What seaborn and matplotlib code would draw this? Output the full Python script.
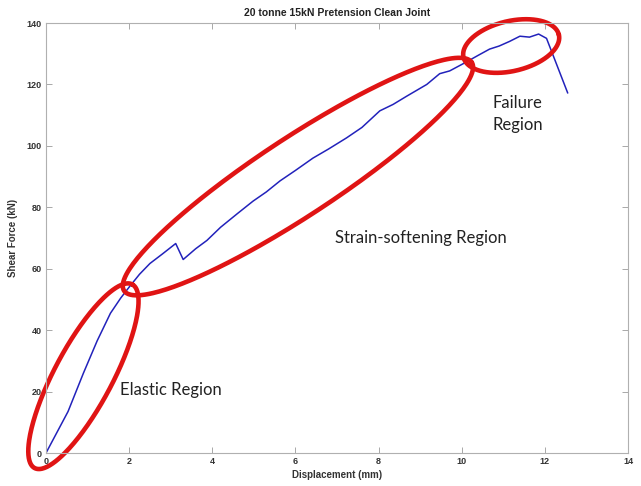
import numpy as np
import pandas as pd
import matplotlib
matplotlib.use("Agg")
import matplotlib.pyplot as plt
import seaborn as sns

# ---- data ----
displacement = [0, 0.53, 0.9, 1.23, 1.55, 1.8, 2.0, 2.25, 2.5, 2.8, 3.12, 3.3,
                3.6, 3.87, 4.2, 4.6, 4.98, 5.3, 5.63, 6.0, 6.42, 6.8, 7.23, 7.6,
                8.03, 8.35, 8.68, 9.16, 9.47, 9.71, 10.07, 10.4, 10.67, 10.9,
                11.15, 11.4, 11.63, 11.85, 12.04, 12.55]
shear_force = [0, 13.5, 26, 36.5, 45.5, 50.5, 54, 58.2, 61.7, 64.8, 68.2, 63,
               66.5, 69.2, 73.5, 77.9, 82, 85, 88.6, 92, 96, 99, 102.6, 106,
               111.4, 113.5, 116.2, 120, 123.5, 124.4, 127, 129.5, 131.5, 132.5,
               134, 135.7, 135.4, 136.4, 135, 117.2]
x_ticks = [0, 2, 4, 6, 8, 10, 12, 14]
y_ticks = [0, 20, 40, 60, 80, 100, 120, 140]

region_labels = ["Elastic Region", "Strain-softening Region", "Failure\nRegion"]
region_label_pos = [(1.78, 20.5), (6.95, 70), (10.75, 110.5)]   # data coords (left, center)

# ellipse highlights: centre (data), half-length / half-width in pixels, angle in degrees
ellipse_centres = [(0.90, 25.0), (6.06, 90.0), (11.19, 132.5)]
ellipse_half_len = [104, 208, 49]
ellipse_half_wid = [29, 39, 25]
ellipse_angle = [62.0, 33.3, 13.3]

df = pd.DataFrame({"Displacement": displacement, "Shear": shear_force})

sns.set_theme(style="white")
plt.rcParams["font.family"] = ["Liberation Sans", "DejaVu Sans"]

W, H = 641, 486
fig = plt.figure(figsize=(W / 100, H / 100), dpi=100)
left, right, top, bottom = 46, 628, 23, 453
ax = fig.add_axes([left / W, 1 - bottom / H, (right - left) / W, (bottom - top) / H])

sns.lineplot(data=df, x="Displacement", y="Shear", sort=False, estimator=None,
             color="#2222bb", linewidth=1.1, ax=ax)

ax.set_xlim(0, 14)
ax.set_ylim(0, 140)
ax.set_xticks(x_ticks)
ax.set_yticks(y_ticks)
ax.tick_params(direction="in", length=4, width=0.6, colors="#9a9a9a",
               labelcolor="#333333", labelsize=6.5, top=True, right=True,
               bottom=True, left=True, pad=3)
for lab in ax.get_xticklabels() + ax.get_yticklabels():
    lab.set_fontweight("bold")
for s in ax.spines.values():
    s.set_color("#b0b0b0")
    s.set_linewidth(0.8)

ax.set_xlabel("Displacement (mm)", fontsize=7, fontweight="bold", color="#333333", labelpad=3)
ax.set_ylabel("Shear Force (kN)", fontsize=7, fontweight="bold", color="#333333", labelpad=6)
ax.set_title("20 tonne 15kN Pretension Clean Joint", fontsize=7.5, fontweight="bold",
             color="#222222", pad=5)

# ellipses drawn in pixel space, mapped back to data coordinates
fig.canvas.draw()
inv = ax.transData.inverted()
t = np.linspace(0, 2 * np.pi, 300)
for (cx, cy), a, b, ang in zip(ellipse_centres, ellipse_half_len, ellipse_half_wid, ellipse_angle):
    px, py = ax.transData.transform((cx, cy))
    th = np.deg2rad(ang)
    ex = px + a * np.cos(t) * np.cos(th) - b * np.sin(t) * np.sin(th)
    ey = py + a * np.cos(t) * np.sin(th) + b * np.sin(t) * np.cos(th)
    pts = inv.transform(np.column_stack([ex, ey]))
    ax.plot(pts[:, 0], pts[:, 1], color="#e01414", linewidth=3.3, clip_on=False,
            solid_capstyle="round")

for txt, (tx, ty) in zip(region_labels, region_label_pos):
    ax.text(tx, ty, txt, fontsize=12, family=["Lato", "DejaVu Sans"], color="#222222",
            ha="left", va="center", linespacing=1.45)

fig.savefig("out.png", dpi=100)
